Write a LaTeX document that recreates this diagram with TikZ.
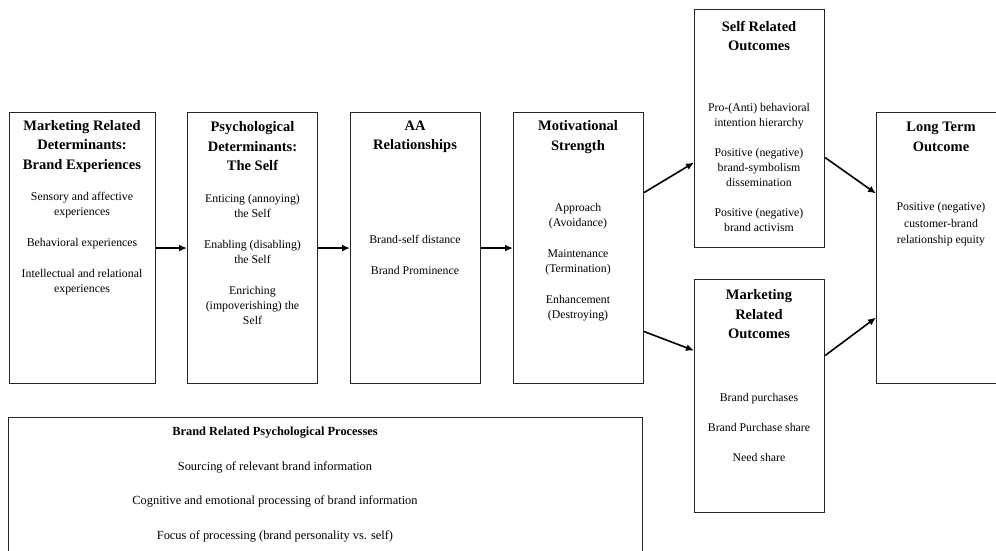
\documentclass[tikz,border=0pt]{standalone}
\usepackage{fontspec}
\setmainfont{Liberation Serif}
\usetikzlibrary{arrows.meta, calc}
\tikzset{>=Latex,
	box/.style = {draw = black!85, line width = 1.1pt, anchor = north west, inner sep = 0pt, minimum width = 130pt},
	ttl/.style = {align = center, font = \fontsize{14.5}{19.5}\selectfont\bfseries},
	txt/.style = {align = center, font = \fontsize{11.8}{15}\selectfont},
	link/.style = {->, line width = 1.6pt, > = {Latex[length = 8pt, width = 7pt]}}
}

\begin{document}
\begin{tikzpicture}[x = 1pt, y = -1pt]
	\clip (0,0) rectangle (996,551);
	\fill[white] (0,0) rectangle (996,551);
	% boxes
	\node[box, minimum width = 146pt, minimum height = 271pt] (brandexp) at (9,112) {};
	\foreach \x/\n in {187/self, 350/aarel, 513/motiv, 876/longterm}
	\node[box, minimum height = 271pt] (\n) at (\x,112) {};
	\node[box, minimum height = 238pt] (selfout) at (694,9) {};
	\node[box, minimum height = 233pt] (mktout) at (694,279) {};
	\node[box, minimum width = 634pt, minimum height = 200pt] (process) at (8,417) {};
	% texts
	\node[ttl] (brandexp-t) at (82,146.5) {Marketing Related\\Determinants:\\Brand Experiences};
	\node[txt] (brandexp-b) at (82,243.5) {Sensory and affective\\experiences\\[16pt]Behavioral experiences\\[16pt]Intellectual and relational\\experiences};
	\node[ttl] (self-t) at (252.5,146.5) {Psychological\\Determinants:\\The Self};
	\node[txt] (self-b) at (252.5,259) {Enticing (annoying)\\the Self\\[16pt]Enabling (disabling)\\the Self\\[16pt]Enriching\\(impoverishing) the\\Self};
	\node[ttl] (aarel-t) at (415,137) {AA\\Relationships};
	\node[txt] (aarel-b) at (415,254.5) {Brand-self distance\\[16pt]Brand Prominence};
	\node[ttl] (motiv-t) at (578,137) {Motivational\\Strength};
	\node[txt] (motiv-b) at (578,262) {Approach\\(Avoidance)\\[16pt]Maintenance\\(Termination)\\[16pt]Enhancement\\(Destroying)};
	\node[ttl] (selfout-t) at (759,36) {Self Related\\Outcomes};
	\node[txt] (selfout-b) at (759,167) {Pro-(Anti) behavioral\\intention hierarchy\\[15pt]Positive (negative)\\brand-symbolism\\dissemination\\[15pt]Positive (negative)\\brand activism};
	\node[ttl] (mktout-t) at (759,314.5) {Marketing\\Related\\Outcomes};
	\node[txt] (mktout-b) at (759,427) {Brand purchases\\[15pt]Brand Purchase share\\[15pt]Need share};
	\node[ttl] (longterm-t) at (941,137) {Long Term\\Outcome};
	\node[txt, font = \fontsize{11.8}{16.5}\selectfont] (longterm-b) at (941,224.5) {Positive (negative)\\customer-brand\\relationship equity};
	\node[txt, font = \fontsize{12.4}{15}\selectfont] (process-b) at (275,484.5) {{\bfseries Brand Related Psychological Processes}\\[19.5pt]Sourcing of relevant brand information\\[19.5pt]Cognitive and emotional processing of brand information\\[19.5pt]Focus of processing (brand personality vs. self)};
	% arrows
	\foreach \a/\b in {brandexp/self, self/aarel, aarel/motiv}
	\draw[link] (\a.east) -- (\b.west);
	\draw[link] ($(motiv.east)+(0,-55.5)$) -- ($(selfout.west)+(0,34)$);
	\draw[link] ($(motiv.east)+(0,83.5)$) -- ($(mktout.west)+(0,-45.5)$);
	\draw[link] ($(selfout.east)+(0,29)$) -- ($(longterm.west)+(0,-54.5)$);
	\draw[link] ($(mktout.east)+(0,-40.5)$) -- ($(longterm.west)+(0,69.5)$);
\end{tikzpicture}
\end{document}
